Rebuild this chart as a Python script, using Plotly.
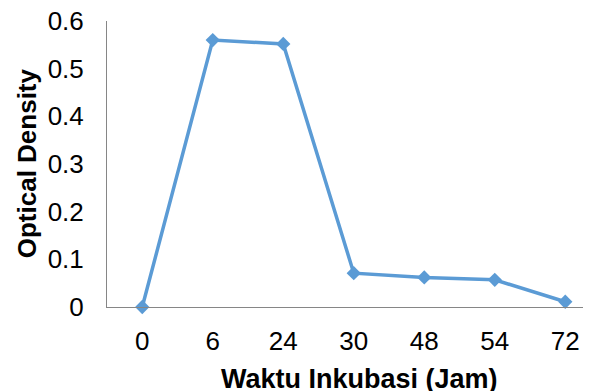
import plotly.graph_objects as go

categories = ["0", "6", "24", "30", "48", "54", "72"]
optical_density = [0.0, 0.56, 0.552, 0.071, 0.062, 0.057, 0.011]
y_ticks = [0, 0.1, 0.2, 0.3, 0.4, 0.5, 0.6]
y_tick_labels = ["0", "0.1", "0.2", "0.3", "0.4", "0.5", "0.6"]

fig = go.Figure()
fig.add_trace(go.Scatter(
    x=list(range(len(categories))), y=optical_density,
    mode="lines+markers",
    line=dict(color="#5B9BD5", width=3.5),
    marker=dict(symbol="diamond", size=11, color="#5B9BD5"),
    cliponaxis=False,
))

font_family = "Liberation Sans, Arial, sans-serif"
fig.update_layout(
    width=583, height=383,
    margin=dict(l=99, r=0, t=13, b=84, pad=0),
    paper_bgcolor="white", plot_bgcolor="white",
    showlegend=False,
    font=dict(family=font_family, size=26, color="black"),
    xaxis=dict(
        tickmode="array", tickvals=list(range(len(categories))), ticktext=categories,
        range=[-0.5, 6.365], showgrid=False, zeroline=False,
        showline=True, linecolor="#868686", linewidth=1,
        ticks="", ticklabelstandoff=11, automargin=False,
        ticklabeloverflow="allow",
        tickfont=dict(size=26),
    ),
    yaxis=dict(
        tickmode="array", tickvals=y_ticks, ticktext=y_tick_labels,
        range=[0, 0.6], showgrid=False, zeroline=False,
        showline=True, linecolor="#868686", linewidth=1,
        ticks="", ticklabelstandoff=17, automargin=False,
        ticklabeloverflow="allow",
        tickfont=dict(size=26),
    ),
    annotations=[
        dict(text="<b>Waktu Inkubasi (Jam)</b>", xref="paper", yref="paper",
             x=0.5227, y=-0.252, xanchor="center", yanchor="middle",
             showarrow=False, font=dict(size=27, family=font_family, color="black")),
        dict(text="<b>Optical Density</b>", xref="paper", yref="paper",
             x=-0.165, y=0.503, xanchor="center", yanchor="middle", textangle=-90,
             showarrow=False, font=dict(size=26, family=font_family, color="black")),
    ],
)

fig.write_html("out.html")
